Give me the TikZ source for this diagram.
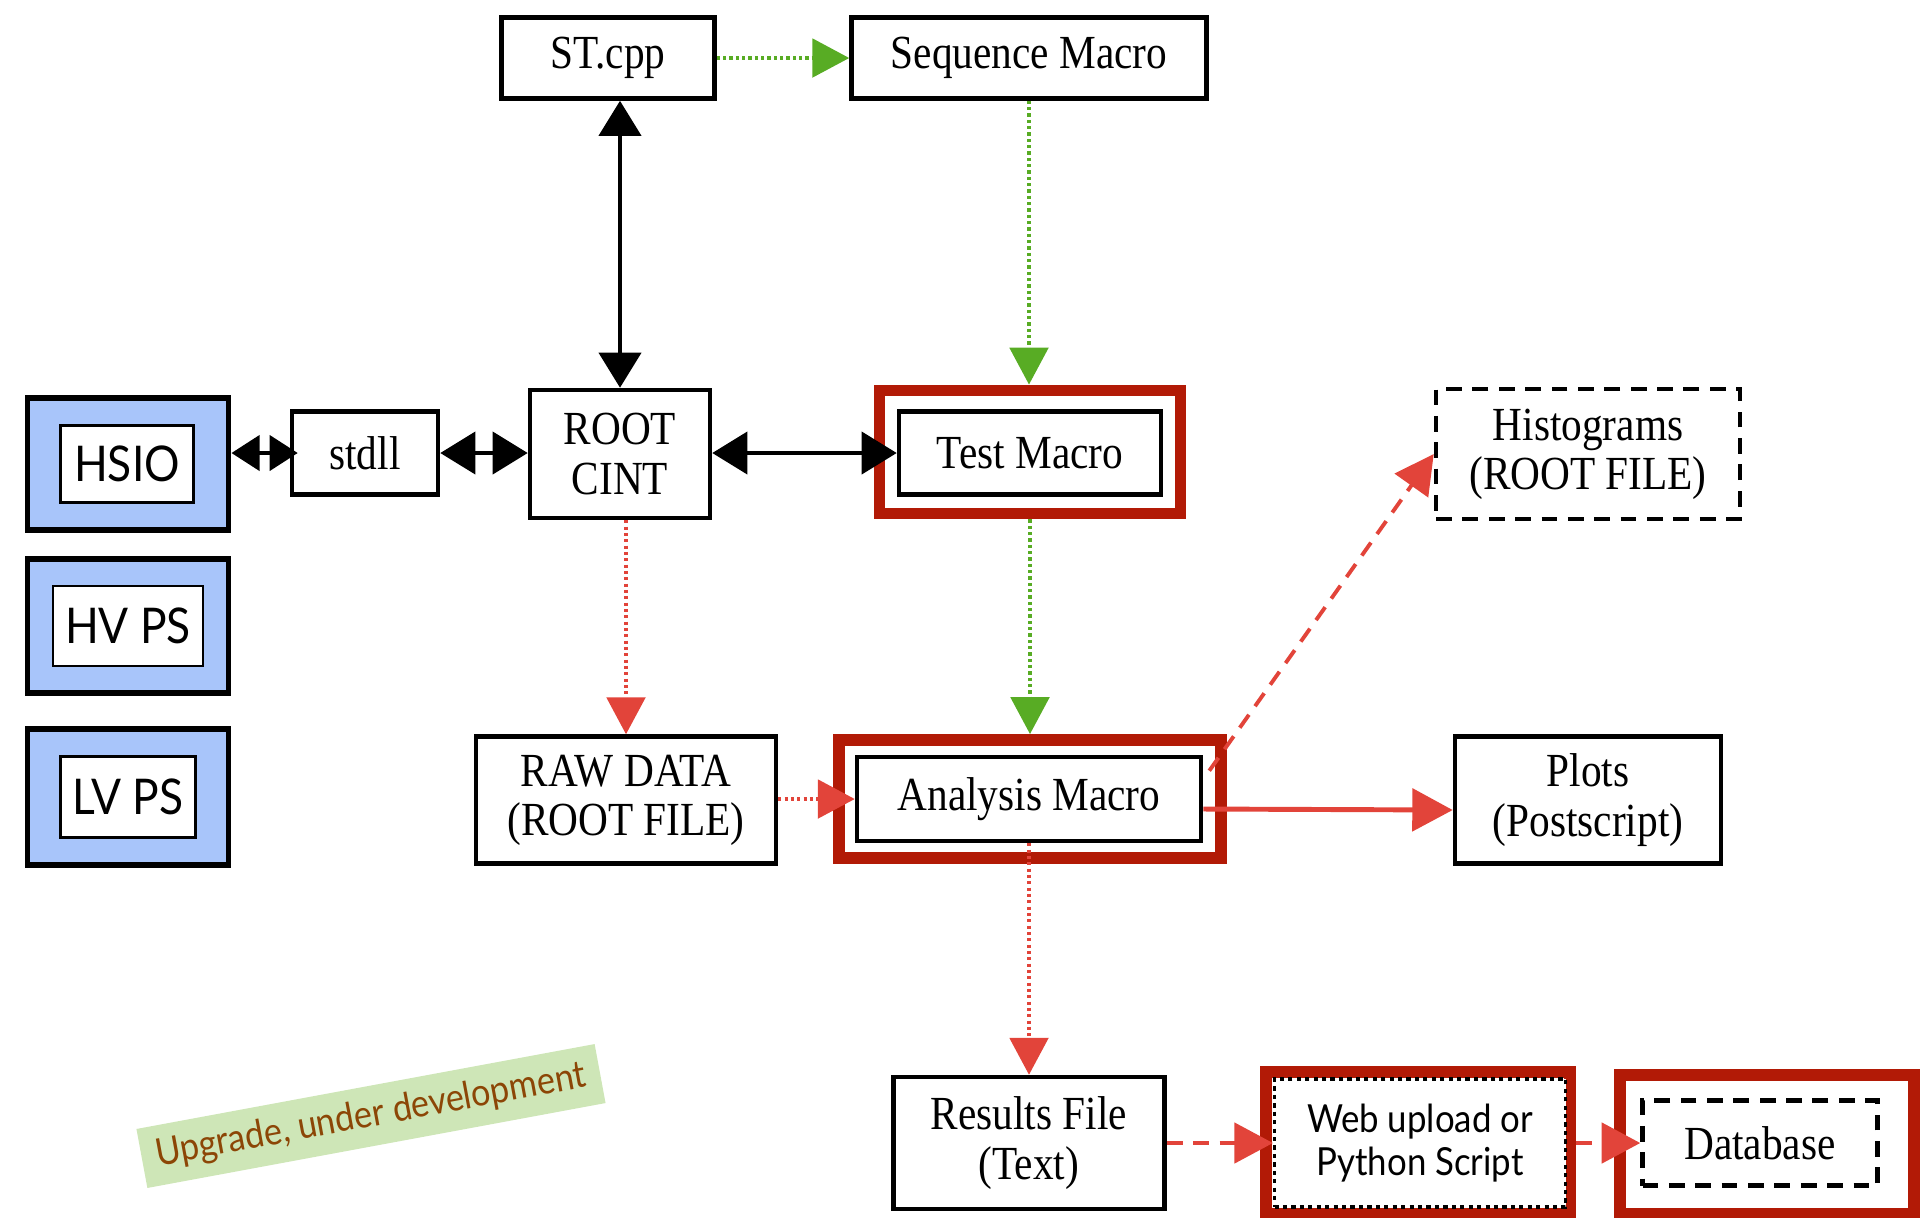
\documentclass[tikz,border=0pt]{standalone}
\usepackage{fontspec}
\setmainfont{Liberation Serif}[FakeStretch=0.87]
\newfontfamily\gillfont{Lato}[FakeStretch=0.9]
\usetikzlibrary{calc,arrows.meta}

\definecolor{framered}{RGB}{178,26,6}
\definecolor{flowred}{RGB}{226,68,58}
\definecolor{flowgreen}{RGB}{88,172,36}
\definecolor{psblue}{RGB}{168,197,250}
\definecolor{notegreen}{RGB}{206,230,183}
\definecolor{notebrown}{RGB}{140,70,6}

\tikzset{boxsize/.style 2 args={minimum width=#1*0.01cm,minimum height=#2*0.01cm}}
\tikzset{block/.style={draw=black,line width=1.3pt,fill=white,inner sep=0pt,align=center,
                       font=\fontsize{13.5}{14}\selectfont}}
\tikzset{hlframe/.style={draw=framered,line width=3.4pt,inner sep=0pt}}

\begin{document}
\begin{tikzpicture}[x=0.01cm,y=-0.01cm,
                    dashblock/.style={block,dash pattern=on 4.5pt off 3pt},
                    dotblock/.style={block,line width=0.9pt,dash pattern=on 1.2pt off 1.2pt,
                                     font=\gillfont\fontsize{11}{12}\selectfont},
                    psouter/.style={draw=black,line width=1.7pt,fill=psblue,inner sep=0pt},
                    psinner/.style={draw=black,line width=0.8pt,fill=white,inner sep=0pt,
                                    font=\gillfont\fontsize{14}{16}\selectfont},
                    twoway/.style={line width=1.1pt,
                                   {Triangle[length=10pt,width=12pt]}-{Triangle[length=10pt,width=12pt]}},
                    greenflow/.style={flowgreen,line width=0.9pt,dash pattern=on 0.9pt off 0.9pt,
                                      -{Triangle[length=10.5pt,width=11pt]}},
                    redflow/.style={flowred,line width=0.9pt,dash pattern=on 0.9pt off 0.9pt,
                                    -{Triangle[length=10.5pt,width=11pt]}},
                    reddash/.style={flowred,line width=1.1pt,dash pattern=on 4.5pt off 3pt,
                                    -{Triangle[length=11pt,width=11.5pt]}},
                    redsolid/.style={flowred,line width=1.4pt,-{Triangle[length=11.5pt,width=12pt]}}]

    \useasboundingbox (0,0) rectangle (1927,1217);

    % Power supplies on the left
    \node [psouter,boxsize={201}{132}] (hsioframe) at (128,464) {};
    \node [psinner,boxsize={133}{77}]  (hsio)      at (127,464) {HSIO};
    \node [psouter,boxsize={201}{134}] (hvframe)   at (128,626) {};
    \node [psinner,boxsize={150}{80}]  (hv)        at (128,626) {HV PS};
    \node [psouter,boxsize={201}{136}] (lvframe)   at (128,797) {};
    \node [psinner,boxsize={135}{81}]  (lv)        at (128,797) {LV PS};

    % Top row
    \node [block,boxsize={213}{81}] (st)  at (608,58)  {ST.cpp};
    \node [block,boxsize={355}{81}] (seq) at (1029,58) {Sequence Macro};

    % Middle row
    \node [block,boxsize={146}{83}]  (stdll) at (365,453)  {stdll};
    \node [block,boxsize={180}{128}] (root)  at (620,454)  {ROOT\\CINT};
    \node [hlframe,boxsize={301}{123}] (testhl) at (1030,452) {};
    \node [block,boxsize={262}{83}]  (test)  at (1030,453) {Test Macro};
    \node [dashblock,boxsize={304}{130}] (histo) at (1588,454) {Histograms\\(ROOT FILE)};

    % Analysis row
    \node [block,boxsize={300}{127}] (raw)  at (626,800) {RAW DATA\\(ROOT FILE)};
    \node [hlframe,boxsize={382}{118}] (anhl) at (1030,799) {};
    \node [block,boxsize={344}{84}]  (an)   at (1029,799) {Analysis Macro};
    \node [block,boxsize={266}{127}] (plots) at (1588,800) {Plots\\(Postscript)};

    % Bottom row
    \node [block,boxsize={271}{132}] (res) at (1029,1143) {Results File\\(Text)};
    \node [hlframe,boxsize={304}{142}] (webhl) at (1418,1143) {};
    \node [dotblock,boxsize={291}{128}] (web) at (1420,1143) {Web upload or\\Python Script};
    \node [hlframe,boxsize={294}{139}] (dbhl) at (1767,1144) {};
    \node [dashblock,boxsize={235}{85}] (db) at (1760,1143) {Database};

    % Note
    \node [rotate=10.5,fill=notegreen,text=notebrown,boxsize={466}{60},
           font=\gillfont\fontsize{10.8}{12}\selectfont] (note) at (371,1116) {Upgrade, under development};

    % Black two-way links
    \draw [twoway] (root.north |- st.south) -- (root.north);
    \draw [twoway,{Triangle[length=8pt,width=10pt]}-{Triangle[length=8pt,width=10pt]}]
          (hsioframe.east |- stdll.west) -- ([xshift=0.08cm]stdll.west);
    \draw [twoway] (stdll.east) -- (root.west |- stdll.east);
    \draw [twoway] (root.east |- test.west) -- (test.west);

    % Green flow
    \draw [greenflow] (st) -- (seq);
    \draw [greenflow] (seq.south) -- (seq.south |- testhl.north);
    \draw [greenflow] (testhl.south) -- (testhl.south |- anhl.north);

    % Red flow
    \draw [redflow] (raw.north |- root.south) -- (raw.north);
    \draw [redflow] (raw.east |- an.west) -- (an.west);
    \draw [redflow] (an.south) -- (an.south |- res.north);
    \draw [reddash] ($(an.north east)+(6,16)$) -- (histo.west);
    \draw [redsolid] ([yshift=-0.1cm]an.east) -- ([yshift=-0.1cm]plots.west);
    \draw [reddash] (res.east |- web.west) -- (web.west);
    \draw [reddash] (webhl.east |- db.west) -- (db.west);

\end{tikzpicture}
\end{document}
